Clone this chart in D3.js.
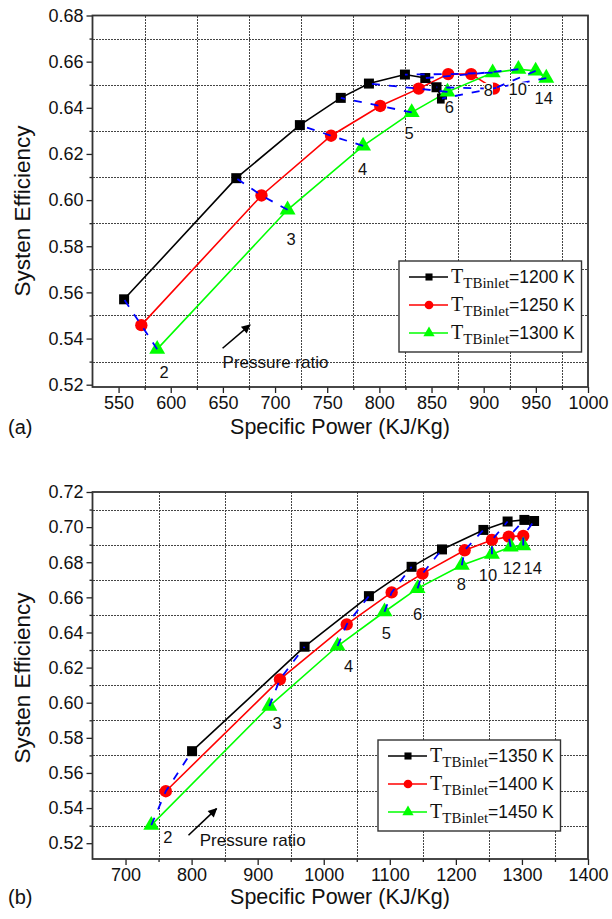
<!DOCTYPE html>
<html>
<head>
<meta charset="utf-8">
<script src="https://cdn.jsdelivr.net/npm/d3@7"></script>
<style>
  body { margin: 0; background: #fff; }
  svg { display: block; }
  text { font-family: "Liberation Sans", Arial, sans-serif; fill: #111; }
</style>
</head>
<body>
<svg id="chart" width="612" height="919"></svg>
<script>
// pressure ratios shown next to the points
const ratioLabels = ["2", "3", "4", "5", "6", "8", "10", "12", "14"];

// panel (a)
const powerA1200 = [555.3, 662.8, 723.8, 763, 790, 824.5, 844, 854.8, 860];
const effA1200 = [0.557, 0.6095, 0.6325, 0.6443, 0.6505, 0.6544, 0.6529, 0.6489, 0.644];
const powerA1250 = [571.8, 687, 753.7, 800.8, 837.7, 866, 888, 909.8];
const effA1250 = [0.5458, 0.602, 0.6279, 0.6408, 0.6483, 0.6546, 0.6546, 0.6483];
const powerA1300 = [587, 712, 784.4, 831, 865.3, 908.6, 933.3, 949.8, 960];
const effA1300 = [0.5354, 0.5958, 0.6235, 0.638, 0.6469, 0.6552, 0.6567, 0.656, 0.6529];
const xTicksA = [550, 600, 650, 700, 750, 800, 850, 900, 950, 1000];
const yTicksA = [0.52, 0.54, 0.56, 0.58, 0.60, 0.62, 0.64, 0.66, 0.68];
const legendA = ["1200 K", "1250 K", "1300 K"];

// panel (b)
const powerB1350 = [800.7, 971, 1068.4, 1133, 1179, 1241.7, 1278.3, 1303.7, 1318.4];
const effB1350 = [0.5724, 0.6319, 0.6607, 0.6774, 0.6873, 0.6984, 0.7032, 0.7041, 0.7035];
const powerB1400 = [761, 933.7, 1034.8, 1102.8, 1149.5, 1213.3, 1254.6, 1280, 1302];
const effB1400 = [0.5496, 0.6133, 0.6446, 0.6628, 0.6735, 0.6868, 0.6927, 0.6946, 0.695];
const powerB1450 = [739, 917.7, 1021, 1092, 1142, 1209, 1254.6, 1283, 1302];
const effB1450 = [0.5303, 0.5981, 0.6323, 0.6518, 0.6651, 0.6783, 0.6846, 0.6888, 0.6895];
const xTicksB = [700, 800, 900, 1000, 1100, 1200, 1300, 1400];
const yTicksB = [0.52, 0.54, 0.56, 0.58, 0.60, 0.62, 0.64, 0.66, 0.68, 0.70, 0.72];
const legendB = ["1350 K", "1400 K", "1450 K"];

const colors = ["#000000", "#ff0000", "#00ff00"];
const shapes = [d3.symbolSquare, d3.symbolCircle, d3.symbolTriangle];

const svg = d3.select("#chart");

svg.append("defs").append("marker")
  .attr("id", "arrow")
  .attr("viewBox", "0 0 10 10")
  .attr("refX", 9).attr("refY", 5)
  .attr("markerWidth", 12).attr("markerHeight", 9)
  .attr("markerUnits", "userSpaceOnUse")
  .attr("orient", "auto")
  .append("path").attr("d", "M0,0 L10,5 L0,10 z").attr("fill", "#000");

const snap = v => Math.round(v) + 0.5;

function drawPanel(cfg) {
  const g = svg.append("g");
  const x = d3.scaleLinear().domain(cfg.xDomain).range([92.5, 588]);
  const y = d3.scaleLinear().domain(cfg.yDomain).range([cfg.bottom, cfg.top]);

  // dotted grid at the minor positions (dashes start on whole pixels)
  const grid = g.append("g").attr("class", "grid");
  cfg.gridX.forEach(d => {
    grid.append("line")
      .attr("x1", snap(x(d))).attr("x2", snap(x(d)))
      .attr("y1", Math.ceil(cfg.top)).attr("y2", Math.floor(cfg.bottom));
  });
  cfg.gridY.forEach(d => {
    grid.append("line")
      .attr("x1", 93).attr("x2", 588)
      .attr("y1", snap(y(d))).attr("y2", snap(y(d)));
  });
  grid.selectAll("line")
    .attr("stroke", "#444").attr("stroke-width", 1).attr("stroke-dasharray", "2,1")
    .attr("shape-rendering", "crispEdges");

  // axes
  g.append("g").attr("transform", `translate(0,${cfg.bottom})`)
    .call(d3.axisBottom(x).tickValues(cfg.xTicks).tickSize(6).tickPadding(3).tickFormat(d3.format("d")));
  g.append("g").attr("transform", `translate(0,${cfg.bottom})`)
    .call(d3.axisBottom(x).tickValues(cfg.gridX).tickSize(3).tickFormat(""));
  g.append("g").attr("transform", "translate(92.5,0)")
    .call(d3.axisLeft(y).tickValues(cfg.yTicks).tickSize(6).tickPadding(3).tickFormat(d3.format(".2f")));
  g.append("g").attr("transform", "translate(92.5,0)")
    .call(d3.axisLeft(y).tickValues(cfg.gridY).tickSize(3).tickFormat(""));
  g.selectAll(".domain").remove();
  g.selectAll(".tick line").attr("stroke", "#222").attr("stroke-width", 1.3);
  g.selectAll(".tick text").attr("font-size", 18).attr("fill", "#111")
    .attr("font-family", "Liberation Sans, Arial, sans-serif");

  g.append("rect")
    .attr("x", 92.5).attr("y", cfg.top)
    .attr("width", 588 - 92.5).attr("height", cfg.bottom - cfg.top)
    .attr("fill", "none").attr("stroke", "#333").attr("stroke-width", 1.8);

  // series lines and markers
  const line = d3.line().x(d => x(d[0])).y(d => y(d[1]));
  const series = cfg.series.map(s => d3.zip(s.power, s.eff));
  series.forEach((pts, i) => {
    g.append("path").datum(pts).attr("d", line)
      .attr("fill", "none").attr("stroke", colors[i]).attr("stroke-width", 1.6);
  });
  series.forEach((pts, i) => {
    const size = [100, 120, 110][i];
    g.selectAll(null).data(pts).enter().append("path")
      .attr("d", d3.symbol().type(shapes[i]).size(size))
      .attr("transform", d => `translate(${x(d[0])},${y(d[1])})`)
      .attr("fill", colors[i]);
  });

  // blue dashed lines joining points of equal pressure ratio
  ratioLabels.forEach((r, k) => {
    const pts = [];
    for (let i = series.length - 1; i >= 0; i--) {
      if (series[i][k]) pts.push(series[i][k]);
    }
    g.append("path").datum(pts).attr("d", line)
      .attr("fill", "none").attr("stroke", "#0000ff").attr("stroke-width", 1.8)
      .attr("stroke-dasharray", "8,9");
  });

  // ratio labels with white boxes
  cfg.labels.forEach(([txt, px, py]) => {
    const t = g.append("text")
      .attr("x", x(px)).attr("y", y(py))
      .attr("text-anchor", "middle").attr("dy", "0.35em")
      .attr("font-size", 16.5).text(txt);
    const b = t.node().getBBox();
    g.insert("rect", () => t.node())
      .attr("x", b.x).attr("y", b.y + 2).attr("width", b.width).attr("height", b.height - 4)
      .attr("fill", "#fff");
  });

  // pressure ratio arrow
  g.append("line")
    .attr("x1", x(cfg.arrow[0])).attr("y1", y(cfg.arrow[1]))
    .attr("x2", x(cfg.arrow[2])).attr("y2", y(cfg.arrow[3]))
    .attr("stroke", "#000").attr("stroke-width", 1.6).attr("marker-end", "url(#arrow)");
  g.append("text")
    .attr("x", x(cfg.arrowText[0])).attr("y", y(cfg.arrowText[1]))
    .attr("dy", "0.35em").attr("font-size", 17).text("Pressure ratio");

  // legend
  const lg = g.append("g").attr("transform", `translate(${cfg.legend[0]},${cfg.legend[1]})`);
  lg.append("rect").attr("width", 182.5).attr("height", 91)
    .attr("fill", "#fff").attr("stroke", "#333").attr("stroke-width", 1.4);
  cfg.legendText.forEach((lab, i) => {
    const cy = 16 + i * 28;
    lg.append("line").attr("x1", 10).attr("x2", 49).attr("y1", cy).attr("y2", cy)
      .attr("stroke", colors[i]).attr("stroke-width", 1.6);
    lg.append("path").attr("d", d3.symbol().type(shapes[i]).size([50, 60, 55][i]))
      .attr("transform", `translate(30,${cy})`).attr("fill", colors[i]);
    const t = lg.append("text").attr("x", 52).attr("y", cy + 6);
    t.append("tspan").attr("font-family", "Liberation Serif, Times New Roman, serif")
      .attr("font-size", 20).text("T");
    t.append("tspan").attr("font-family", "Liberation Serif, Times New Roman, serif")
      .attr("font-size", 15).attr("dy", 5).text("TBinlet");
    t.append("tspan").attr("font-size", 17.5).attr("dy", -5).text("=" + lab);
  });

  // titles
  g.append("text").attr("x", 340).attr("y", cfg.titleY)
    .attr("text-anchor", "middle").attr("font-size", 21.5).text("Specific Power (KJ/Kg)");
  g.append("text").attr("x", 8).attr("y", cfg.titleY)
    .attr("font-size", 20).text(cfg.panel);
  g.append("text")
    .attr("transform", `translate(30,${cfg.yTitleY}) rotate(-90)`)
    .attr("text-anchor", "middle").attr("font-size", 22.5).text("Systen Efficiency");
}

drawPanel({
  xDomain: [525, 1000], yDomain: [0.519, 0.68], top: 15.5, bottom: 387,
  xTicks: xTicksA, yTicks: yTicksA,
  gridX: [575, 625, 675, 725, 775, 825, 875, 925, 975],
  gridY: [0.53, 0.55, 0.57, 0.59, 0.61, 0.63, 0.65, 0.67],
  series: [
    { power: powerA1200, eff: effA1200 },
    { power: powerA1250, eff: effA1250 },
    { power: powerA1300, eff: effA1300 }
  ],
  labels: [["2", 593.6, 0.5255], ["3", 715.3, 0.5831], ["4", 783.8, 0.6132], ["5", 828.4, 0.6291],
           ["6", 867, 0.6404], ["8", 904.5, 0.6476], ["10", 932.6, 0.6479], ["14", 957.6, 0.644]],
  arrow: [649.7, 0.5358, 676, 0.5459], arrowText: [649.7, 0.53],
  legend: [399, 261], legendText: legendA,
  titleY: 434, panel: "(a)", yTitleY: 211
});

drawPanel({
  xDomain: [650, 1400], yDomain: [0.511, 0.72], top: 492, bottom: 859,
  xTicks: xTicksB, yTicks: yTicksB,
  gridX: [750, 850, 950, 1050, 1150, 1250, 1350],
  gridY: [0.53, 0.55, 0.57, 0.59, 0.61, 0.63, 0.65, 0.67, 0.69, 0.71],
  series: [
    { power: powerB1350, eff: effB1350 },
    { power: powerB1400, eff: effB1400 },
    { power: powerB1450, eff: effB1450 }
  ],
  labels: [["2", 764, 0.5236], ["3", 929.4, 0.5882], ["4", 1037.6, 0.6208], ["5", 1094.8, 0.6395],
           ["6", 1142, 0.6505], ["8", 1208.3, 0.6676], ["10", 1248.5, 0.6727], ["12", 1285, 0.6765],
           ["14", 1316.4, 0.6765]],
  arrow: [795.3, 0.5245, 837.8, 0.5397], arrowText: [812.4, 0.5216],
  legend: [378, 740], legendText: legendB,
  titleY: 904, panel: "(b)", yTitleY: 678
});
</script>
</body>
</html>
